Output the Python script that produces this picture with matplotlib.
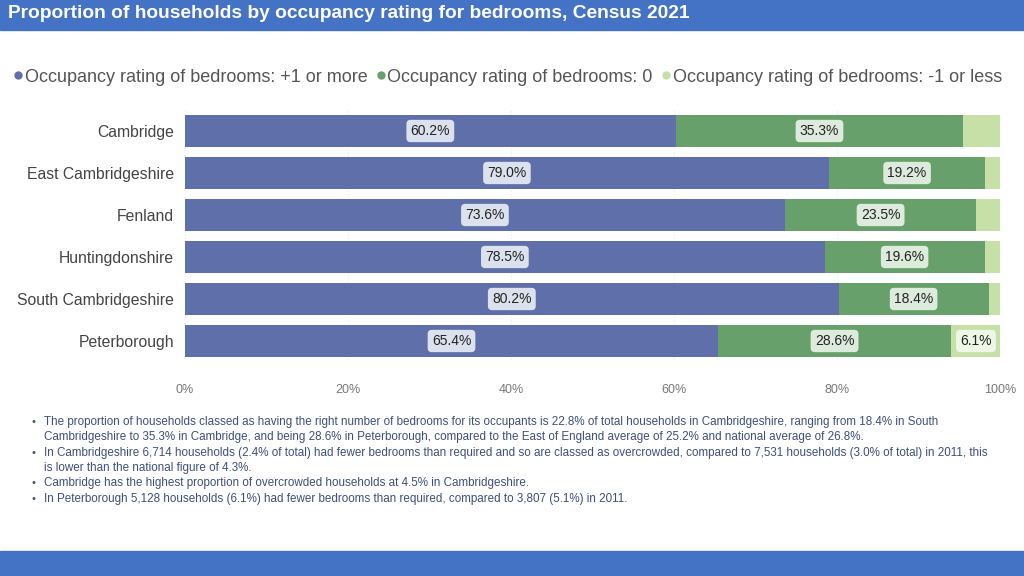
import matplotlib.pyplot as plt
from matplotlib.patches import Rectangle
from matplotlib.lines import Line2D
import numpy as np

# data
districts = ["Cambridge", "East Cambridgeshire", "Fenland", "Huntingdonshire",
             "South Cambridgeshire", "Peterborough"]
plus_one = [60.2, 79.0, 73.6, 78.5, 80.2, 65.4]
zero = [35.3, 19.2, 23.5, 19.6, 18.4, 28.6]
minus_one = [4.5, 1.8, 2.9, 1.9, 1.4, 6.1]
series_names = ["Occupancy rating of bedrooms: +1 or more",
                "Occupancy rating of bedrooms: 0",
                "Occupancy rating of bedrooms: -1 or less"]
x_ticks = [0, 20, 40, 60, 80, 100]

bullets = [
    "The proportion of households classed as having the right number of bedrooms for its occupants is 22.8% of total households in Cambridgeshire, ranging from 18.4% in South",
    "Cambridgeshire to 35.3% in Cambridge, and being 28.6% in Peterborough, compared to the East of England average of 25.2% and national average of 26.8%.",
    "In Cambridgeshire 6,714 households (2.4% of total) had fewer bedrooms than required and so are classed as overcrowded, compared to 7,531 households (3.0% of total) in 2011, this",
    "is lower than the national figure of 4.3%.",
    "Cambridge has the highest proportion of overcrowded households at 4.5% in Cambridgeshire.",
    "In Peterborough 5,128 households (6.1%) had fewer bedrooms than required, compared to 3,807 (5.1%) in 2011.",
]
bullet_start = [True, False, True, False, True, True]

colors = ["#5E6FAA", "#68A06C", "#C6E0A8"]
label_bg = ["#DCE1EE", "#DCEBDC", "#EEF6E6"]

plt.rcParams['font.family'] = ['Liberation Sans', 'DejaVu Sans']

W, H = 1024, 576
fig = plt.figure(figsize=(10.24, 5.76), dpi=100)
fig.patch.set_facecolor("white")

# header and footer bars
fig.patches.append(Rectangle((0, 1 - 30 / H), 1, 30 / H, transform=fig.transFigure,
                             color="#4472C4", zorder=0))
fig.patches.append(Rectangle((0, 0), 1, 25 / H, transform=fig.transFigure,
                             color="#4472C4", zorder=0))
fig.text(8 / W, 1 - 14 / H, "Proportion of households by occupancy rating for bedrooms, Census 2021",
         color="white", fontsize=13.8, fontweight="bold", va="center", ha="left")

# chart axes
ax = fig.add_axes([185 / W, 1 - 362 / H, 815 / W, 252 / H])
y = np.arange(len(districts))
left = np.zeros(len(districts))
for vals, col, bg, name in zip([plus_one, zero, minus_one], colors, label_bg, series_names):
    vals = np.array(vals)
    ax.barh(y, vals, left=left, height=0.76, color=col, label=name, zorder=2)
    for yi, l, v in zip(y, left, vals):
        if v >= 5:
            ax.text(l + v / 2, yi, f"{v:.1f}%", ha="center", va="center", fontsize=10,
                    color="#222222", zorder=3,
                    bbox=dict(boxstyle="round,pad=0.3,rounding_size=0.3", fc=bg, ec="none"))
    left += vals

ax.set_xlim(0, 100)
ax.set_ylim(len(districts) - 0.5, -0.5)
ax.set_yticks(y)
ax.set_yticklabels(districts, fontsize=11.3, color="#444444")
ax.set_xticks(x_ticks)
ax.set_xticklabels([f"{t}%" for t in x_ticks], fontsize=9, color="#777777")
ax.tick_params(axis="y", length=0, pad=8)
ax.tick_params(axis="x", length=0, pad=16)
ax.xaxis.grid(True, color="#EDEDED", linestyle=":", linewidth=0.8, zorder=0)
for s in ax.spines.values():
    s.set_visible(False)

# legend with small dots
handles = [Line2D([0], [0], marker="o", color="none", markerfacecolor=c, markeredgecolor="none",
                  markersize=6) for c in colors]
fig.legend(handles, series_names, loc="center", bbox_to_anchor=(507 / W, 1 - 77 / H),
           ncol=3, frameon=False, fontsize=13, handletextpad=0.0, columnspacing=0.4,
           handlelength=0.7, labelcolor="#555555")

# commentary bullets
line_y = [422, 437, 453, 468, 483, 499]
for txt, yy, start in zip(bullets, line_y, bullet_start):
    if start:
        fig.text(31 / W, 1 - yy / H, "•", fontsize=8, color="#44546A", va="center")
    fig.text(44 / W, 1 - yy / H, txt, fontsize=8.4, color="#3F4F7A", va="center")

fig.savefig("out.png", dpi=100)
